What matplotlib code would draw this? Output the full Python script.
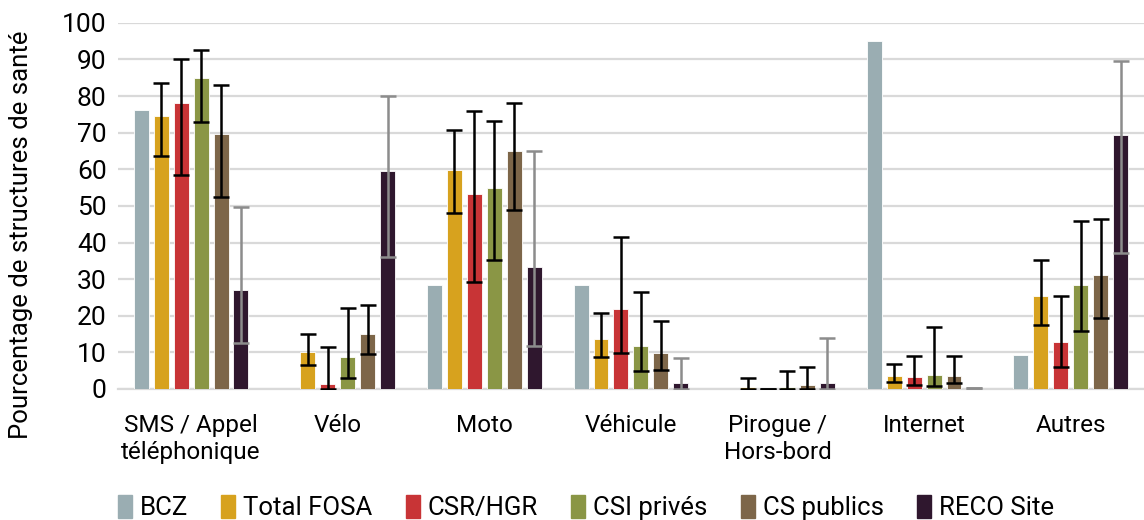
import numpy as np
import matplotlib.pyplot as plt
from matplotlib.patches import Patch

plt.rcParams['font.family'] = ['Roboto', 'DejaVu Sans']

categories = ["SMS / Appel\ntéléphonique", "Vélo", "Moto", "Véhicule",
              "Pirogue /\nHors-bord", "Internet", "Autres"]
series = ["BCZ", "Total FOSA", "CSR/HGR", "CSI privés", "CS publics", "RECO Site"]
colors = ["#9aadb2", "#d7a21e", "#c83436", "#8a9645", "#7d6649", "#2f172e"]

bcz = [76.2, 0, 28.4, 28.4, 0, 95, 9.3]
fosa = [74.6, 10.1, 59.8, 13.7, 0.4, 3.5, 25.4]
csr = [78.1, 1.4, 53.3, 21.9, 0.1, 3.3, 12.8]
csi = [85, 8.7, 54.9, 11.8, 0.5, 3.9, 28.3]
cspub = [69.7, 15, 64.9, 9.9, 1.0, 3.6, 31.2]
reco = [27.0, 59.6, 33.2, 1.6, 1.7, 0.3, 69.4]

# confidence bounds (low, high)
fosa_lo = [63.5, 6.5, 48.2, 8.7, 0, 1.9, 17.6]
fosa_hi = [83.5, 15, 70.8, 20.8, 3.1, 6.9, 35.3]
csr_lo = [58.5, 0, 29.2, 9.8, 0, 1.2, 5.9]
csr_hi = [90, 11.5, 76, 41.5, 0.1, 9.1, 25.3]
csi_lo = [73, 3, 35.3, 4.9, 0, 0.7, 15.7]
csi_hi = [92.5, 22, 73.3, 26.5, 5, 16.8, 46]
cspub_lo = [52.5, 9.5, 48.9, 5.2, 0, 1.5, 19.3]
cspub_hi = [83, 23, 78.2, 18.6, 6, 9.1, 46.4]
reco_lo = [12.5, 36, 11.8, 0, 0, 0.3, 37.2]
reco_hi = [49.7, 80, 64.9, 8.5, 14, 0.3, 89.7]

values = [bcz, fosa, csr, csi, cspub, reco]
lows = [None, fosa_lo, csr_lo, csi_lo, cspub_lo, reco_lo]
highs = [None, fosa_hi, csr_hi, csi_hi, cspub_hi, reco_hi]

fig = plt.figure(figsize=(11.44, 5.2), dpi=100)
ax = fig.add_axes([0.103, 0.252, 0.897, 0.704])

x = np.arange(len(categories))
slot = 0.136
width = 0.102
for j, (vals, col) in enumerate(zip(values, colors)):
    pos = x + (j - 2.5) * slot
    ax.bar(pos, vals, width, color=col, zorder=3, edgecolor='white', linewidth=0.6)
    if lows[j] is not None:
        v = np.array(vals)
        err = [v - np.array(lows[j]), np.array(highs[j]) - v]
        ecol = "#8c8c8c" if j == 5 else "black"
        ax.errorbar(pos, v, yerr=err, fmt='none', ecolor=ecol, elinewidth=1.8,
                    capsize=6, capthick=1.8, zorder=4)

ax.set_xlim(-0.5, 6.5)
ax.set_ylim(0, 100)
ax.set_yticks(range(0, 101, 10))
ax.set_xticks(x)
ax.set_xticklabels(categories, fontsize=17.5)
ax.tick_params(axis='both', length=0)
ax.tick_params(axis='y', labelsize=19, pad=8)
ax.tick_params(axis='x', pad=18)
ax.yaxis.grid(True, color="#d9d9d9", linewidth=1.6, zorder=0)
for s in ['top', 'right', 'left']:
    ax.spines[s].set_visible(False)
ax.spines['bottom'].set_color("#d9d9d9")
ax.spines['bottom'].set_linewidth(1.6)
ax.set_ylabel("Pourcentage de structures de santé", fontsize=18.5)
ax.yaxis.set_label_coords(-0.083, 0.42)

handles = [Patch(color=c, label=s) for s, c in zip(series, colors)]
fig.legend(handles=handles, loc='center', bbox_to_anchor=(0.512, 0.024), ncol=6,
           frameon=False, fontsize=18.5, handlelength=0.55, handleheight=1.0,
           handletextpad=0.3, columnspacing=1.3)

fig.savefig("out.png", dpi=100)
